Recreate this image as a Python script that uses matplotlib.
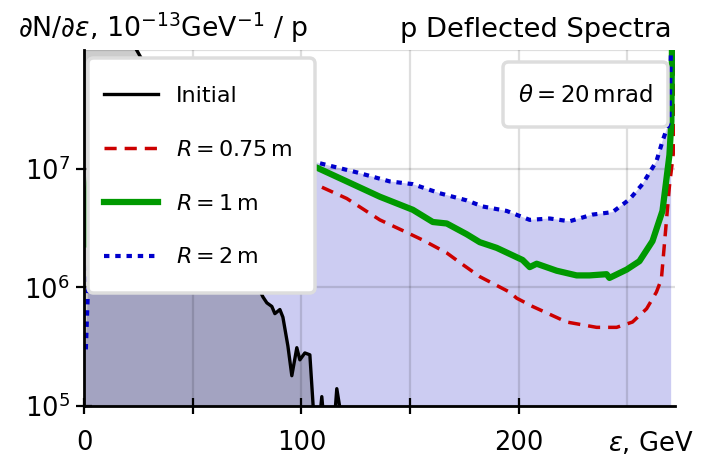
import numpy as np
import matplotlib
matplotlib.use("Agg")
from matplotlib import pyplot as plt
from matplotlib.patches import FancyBboxPatch

plt.rcParams['font.family'] = ['DejaVu Sans']
plt.rcParams['mathtext.fontset'] = 'dejavusans'

# spectra, energy in GeV, dN/de in 1e-13 GeV^-1 per proton
eps_init = [0, 5, 10, 15, 20, 23.5, 26, 35, 45, 55, 65, 75, 82.3, 84.1, 86.4,
            87.8, 90.1, 91.5, 93.8, 95.6, 97.9, 99.3, 101.6, 103.9, 106.2,
            107.8, 109.4, 110.8, 114.8, 116.3, 119.5, 125, 272]
dn_init = [3e8, 4e8, 4e8, 3e8, 2e8, 1.05e8, 8.7e7, 4e7, 1.5e7, 6e6, 3e6, 1.6e6,
           8.3e5, 7.4e5, 6.9e5, 6.0e5, 6.5e5, 5.6e5, 3.2e5, 1.8e5, 3.1e5,
           2.45e5, 2.8e5, 2.7e5, 6e4, 6e4, 1.2e5, 6e4, 6e4, 1.4e5, 6e4, 5e4, 5e4]

eps_r075 = [0.5, 1.4, 4, 10, 30, 60, 90, 108.5, 120.9, 136.1, 148.5, 155.9,
            166.9, 172.9, 182.1, 195.9, 199.1, 206.4, 222.1, 235.9, 245.1,
            252.4, 258.9, 263.4, 265.7, 269.4, 271.7, 272]
dn_r075 = [4.5e6, 7e6, 1.1e7, 1.3e7, 1.3e7, 1.15e7, 8.5e6, 7.1e6, 5.6e6, 3.7e6,
           2.9e6, 2.5e6, 1.95e6, 1.62e6, 1.23e6, 9.1e5, 8.1e5, 6.9e5, 5.1e5,
           4.6e5, 4.6e5, 5.1e5, 6.6e5, 9.1e5, 1.17e6, 7.1e6, 1.6e7, 1.2e8]

eps_r1 = [0.5, 1.4, 4, 10, 30, 60, 90, 107.1, 120.9, 136.1, 151.3, 160.5, 166.9,
          176.1, 182.1, 189.9, 201.8, 205.1, 208.3, 217.5, 226.7, 232.6, 240.5,
          241.8, 249.7, 255.6, 261.6, 266.2, 269.4, 270.3, 270.6]
dn_r1 = [2.3e6, 5.5e6, 1.3e7, 1.6e7, 1.6e7, 1.45e7, 1.2e7, 1.02e7, 7.8e6, 5.8e6,
         4.5e6, 3.55e6, 3.45e6, 2.8e6, 2.4e6, 2.15e6, 1.7e6, 1.48e6, 1.58e6,
         1.38e6, 1.26e6, 1.26e6, 1.29e6, 1.2e6, 1.41e6, 1.66e6, 2.45e6, 4.4e6,
         1.3e7, 2.5e7, 1.2e8]

eps_r2 = [0.8, 1.8, 4, 10, 30, 60, 90, 107.6, 125.5, 140.7, 151.3, 163.7, 176.1,
          183.4, 194.5, 205.1, 214.3, 223.4, 234.0, 243.2, 251.0, 257.0, 263.4,
          266.2, 269.4, 270.2]
dn_r2 = [3e5, 1e6, 8e6, 1.4e7, 1.5e7, 1.4e7, 1.25e7, 1.12e7, 9.3e6, 7.8e6,
         7.4e6, 6.2e6, 5.4e6, 4.8e6, 4.4e6, 3.7e6, 3.8e6, 3.6e6, 4.1e6, 4.3e6,
         5.5e6, 7.4e6, 1.15e7, 1.7e7, 2.5e7, 1.2e8]

W, H = 701, 458
fig = plt.figure(figsize=(W / 100, H / 100), dpi=100)
ax = fig.add_axes([0.12, 0.1135, 0.843, 0.7775])
ax.set_yscale('log')

ax.fill_between(eps_r2, dn_r2, 1e3, color='#ccccf2', lw=0, zorder=1)
ax.fill_between(eps_init, dn_init, 1e3, color='black', alpha=0.2, lw=0, zorder=1.1)

ax.plot(eps_init, dn_init, color='black', lw=2.4, label='Initial', zorder=3)
ax.plot(eps_r075, dn_r075, color='#cc0000', lw=2.5, ls=(0, (3.5, 2.3)),
        label=r'$R = 0.75\,$m', zorder=3)
ax.plot(eps_r1, dn_r1, color='#009900', lw=4.5, label=r'$R = 1\,$m', zorder=3)
ax.plot(eps_r2, dn_r2, color='#0000cc', lw=3, ls=(0, (1.3, 1.4)),
        label=r'$R = 2\,$m', zorder=3)

ax.set_xlim(0, 272)
ax.set_ylim(1e5, 1e8)

ax.set_xticks([0, 50, 100, 150, 200])
ax.set_xticklabels(['0', '', '100', '', '200'])
ax.set_yticks([1e5, 1e6, 1e7])
ax.minorticks_off()
ax.tick_params(direction='inout', length=11, width=1.6, labelsize=18.5)
ax.tick_params(axis='x', pad=12)
ax.tick_params(axis='y', pad=5)

ax.set_axisbelow('line')
ax.grid(True, color='black', alpha=0.13, lw=1.6)
ax.axvline(250, color='black', alpha=0.13, lw=1.6, zorder=1.5)
ax.axhline(1e8, color='black', alpha=0.13, lw=1.6, zorder=1.5)

for s in ['top', 'right']:
    ax.spines[s].set_visible(False)
for s in ['left', 'bottom']:
    ax.spines[s].set_linewidth(2)
    ax.spines[s].set_zorder(4)


def rounded_box(x0, y0, x1, y1):
    # white panel with a grey rounded border, given in pixels from top-left
    p = FancyBboxPatch((x0 / W, 1 - y1 / H), (x1 - x0) / W, (y1 - y0) / H,
                       boxstyle='round,pad=0,rounding_size=0.008',
                       mutation_aspect=W / H, transform=fig.transFigure,
                       fc='white', ec='#dddddd', lw=2.5, zorder=5)
    fig.add_artist(p)


rounded_box(88, 58, 315, 293)
leg = fig.legend(loc='upper left', bbox_to_anchor=(104 / W, 1 - 86 / H),
                 borderaxespad=0, borderpad=0, frameon=False,
                 fontsize=16, handlelength=2.45, labelspacing=1.52,
                 handletextpad=0.8)
leg.set_zorder(6)

rounded_box(503, 62, 668, 127)
fig.text(585 / W, 1 - 95 / H, r'$\theta = 20\,$mrad', ha='center', va='center',
         fontsize=16.5, zorder=6)

fig.text(0.025, 1 - 37 / H, r'$\partial$N/$\partial\varepsilon$, 10$^{-13}$GeV$^{-1}$ / p',
         fontsize=19.3, va='baseline')
fig.text(672 / W, 1 - 37 / H, 'p Deflected Spectra', fontsize=19.6, ha='right',
         va='baseline')
fig.text(0.99, 1 - 443 / H, r'$\varepsilon$, GeV', fontsize=18.5, ha='right',
         va='center')

fig.savefig('out.png', dpi=100)
